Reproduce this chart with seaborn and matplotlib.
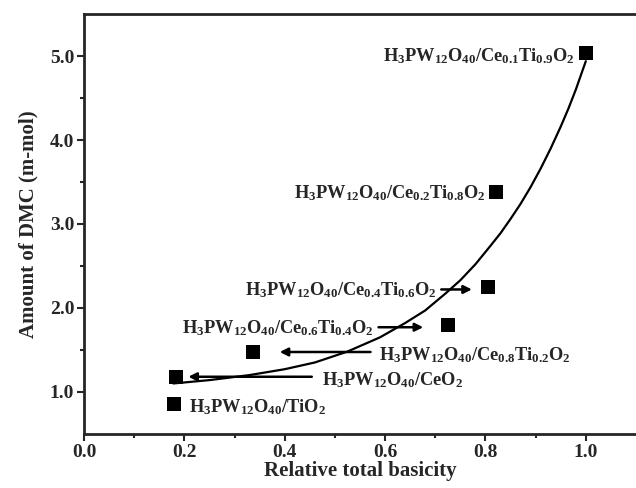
import numpy as np
import pandas as pd
import matplotlib
matplotlib.use('Agg')
import matplotlib.pyplot as plt
import seaborn as sns

# catalyst data
catalysts = ['Ce0.1Ti0.9O2', 'Ce0.2Ti0.8O2', 'Ce0.4Ti0.6O2', 'Ce0.6Ti0.4O2',
             'Ce0.8Ti0.2O2', 'CeO2', 'TiO2']
basicity = [1.0, 0.822, 0.806, 0.725, 0.337, 0.184, 0.180]
dmc = [5.04, 3.38, 2.25, 1.80, 1.475, 1.18, 0.85]

# fitted trend line
curve_x = [0.178, 0.25, 0.33, 0.40, 0.46, 0.525, 0.59, 0.64, 0.68, 0.72,
           0.75, 0.78, 0.81, 0.83, 0.85, 0.87, 0.89, 0.91, 0.93, 0.95,
           0.965, 0.98, 0.99, 1.0]
curve_y = [1.10, 1.14, 1.20, 1.27, 1.35, 1.48, 1.65, 1.82, 1.97, 2.17,
           2.33, 2.52, 2.74, 2.89, 3.06, 3.24, 3.44, 3.66, 3.90, 4.16,
           4.37, 4.60, 4.77, 4.94]

xticks = [0.0, 0.2, 0.4, 0.6, 0.8, 1.0]
yticks = [1.0, 2.0, 3.0, 4.0, 5.0]

df = pd.DataFrame({'catalyst': catalysts, 'basicity': basicity, 'dmc': dmc})
curve = pd.DataFrame({'x': curve_x, 'y': curve_y})

sns.set_style('ticks')
plt.rcParams['font.family'] = ['Liberation Serif', 'DejaVu Serif']
plt.rcParams['font.weight'] = 'bold'
plt.rcParams['mathtext.fontset'] = 'custom'
plt.rcParams['mathtext.rm'] = 'Liberation Serif:bold'
plt.rcParams['mathtext.it'] = 'Liberation Serif:bold'
plt.rcParams['mathtext.bf'] = 'Liberation Serif:bold'

fig = plt.figure(figsize=(6.36, 4.88), dpi=100)
ax = fig.add_axes([0.132, 0.111, 0.868, 0.860])

sns.lineplot(data=curve, x='x', y='y', sort=False, color='black', lw=1.6, ax=ax)
sns.scatterplot(data=df, x='basicity', y='dmc', marker='s', s=95, color='black',
                edgecolor='black', linewidth=0, ax=ax, zorder=3)


def lab(c):
    if c == 'CeO2':
        tail = r'CeO$_2$'
    elif c == 'TiO2':
        tail = r'TiO$_2$'
    else:
        a, b = c[2:5], c[7:10]
        tail = r'Ce$_{%s}$Ti$_{%s}$O$_2$' % (a, b)
    return r'H$_3$PW$_{12}$O$_{40}$/' + tail


fs = 13.2
ax.text(0.977, 5.0, lab(catalysts[0]), ha='right', va='center', fontsize=fs)
ax.text(0.80, 3.37, lab(catalysts[1]), ha='right', va='center', fontsize=fs)
ax.text(0.702, 2.21, lab(catalysts[2]), ha='right', va='center', fontsize=fs)
ax.text(0.196, 1.76, lab(catalysts[3]), ha='left', va='center', fontsize=fs)
ax.text(0.587, 1.44, lab(catalysts[4]), ha='left', va='center', fontsize=fs)
ax.text(0.474, 1.14, lab(catalysts[5]), ha='left', va='center', fontsize=fs)
ax.text(0.21, 0.82, lab(catalysts[6]), ha='left', va='center', fontsize=fs)

arrow = dict(arrowstyle='-|>', color='black', lw=1.8, mutation_scale=12,
             shrinkA=0, shrinkB=0)
ax.annotate('', xy=(0.773, 2.22), xytext=(0.712, 2.22), arrowprops=arrow)
ax.annotate('', xy=(0.676, 1.77), xytext=(0.587, 1.77), arrowprops=arrow)
ax.annotate('', xy=(0.39, 1.475), xytext=(0.571, 1.475), arrowprops=arrow)
ax.annotate('', xy=(0.208, 1.18), xytext=(0.454, 1.18), arrowprops=arrow)

ax.set_xlim(0, 1.1)
ax.set_ylim(0.5, 5.5)
ax.set_xticks(xticks)
ax.set_xticklabels(['%.1f' % t for t in xticks])
ax.set_yticks(yticks)
ax.set_yticklabels(['%.1f' % t for t in yticks])
ax.set_xticks(np.arange(0.1, 1.1, 0.2), minor=True)
ax.set_yticks(np.arange(1.5, 5.5, 1.0), minor=True)
ax.tick_params(which='major', direction='out', length=5, width=1.5, labelsize=14, pad=2)
ax.tick_params(which='minor', direction='out', length=3, width=1.5)
for t in ax.get_xticklabels() + ax.get_yticklabels():
    t.set_fontweight('bold')

ax.set_xlabel('Relative total basicity', fontsize=15, fontweight='bold', labelpad=0)
ax.set_ylabel('Amount of DMC (m-mol)', fontsize=15, fontweight='bold', labelpad=8)

for s in ['left', 'bottom', 'top']:
    ax.spines[s].set_linewidth(2)
ax.spines['right'].set_visible(False)

fig.savefig('out.png', dpi=100)
